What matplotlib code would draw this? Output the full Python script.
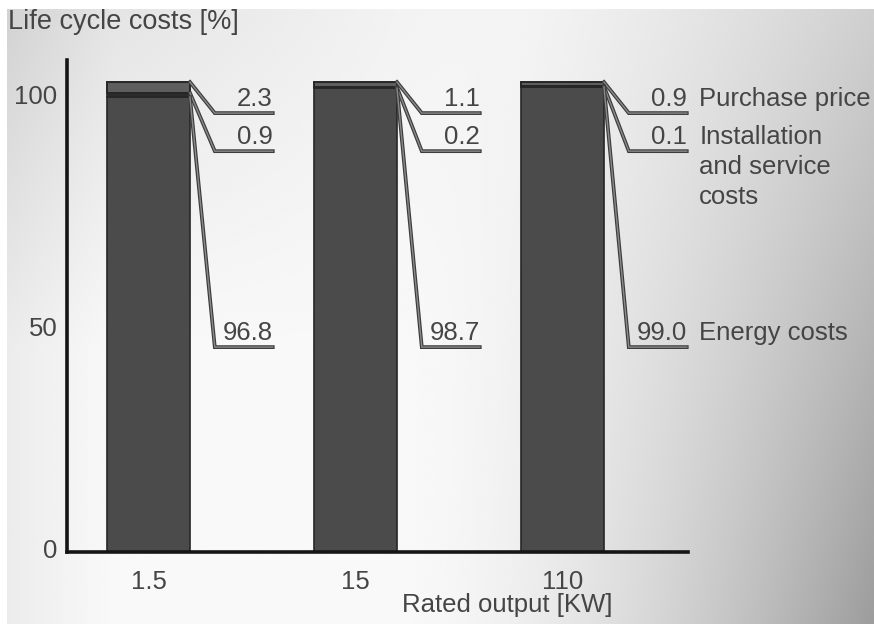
import numpy as np
import matplotlib
matplotlib.use("Agg")
import matplotlib.pyplot as plt
from matplotlib import font_manager
from matplotlib.transforms import ScaledTranslation
import matplotlib.patheffects as pe

# ---- data -------------------------------------------------------------
outputs = ["1.5", "15", "110"]                     # rated output [kW]
purchase = [2.3, 1.1, 0.9]                          # purchase price [%]
installation = [0.9, 0.2, 0.1]                      # installation and service costs [%]
energy = [96.8, 98.7, 99.0]                         # energy costs [%]
component_names = ["Purchase price", "Installation\nand service\ncosts", "Energy costs"]
y_ticks = [0, 50, 100]

# ---- font -------------------------------------------------------------
available = {f.name for f in font_manager.fontManager.ttflist}
family = next((f for f in ["Liberation Sans Narrow", "Liberation Sans", "DejaVu Sans"]
               if f in available), "DejaVu Sans")
plt.rcParams["font.family"] = [family, "DejaVu Sans"]
txt_col = "#454545"
fs = 18.5

fig = plt.figure(figsize=(8.74, 6.24), dpi=100, facecolor="white")
W, H = 874, 624

# ---- shaded backdrop --------------------------------------------------
bg = fig.add_axes([7 / W, 0, 1 - 7 / W, 1 - 9 / H], zorder=0)
gx, gy = np.meshgrid(np.linspace(0, 1, 400), np.linspace(0, 1, 300))  # gy: 0 top, 1 bottom
shade = 0.975
shade -= 0.36 * np.clip((gx - 0.45) / 0.55, 0, 1) ** 1.6 * (0.45 + 0.55 * gy)
shade -= 0.10 * np.clip(1 - gx / 0.6, 0, 1) * np.clip(1 - gy / 0.55, 0, 1)
shade -= 0.05 * np.clip(1 - gx / 0.12, 0, 1)
bg.imshow(shade, cmap="gray", vmin=0, vmax=1, aspect="auto",
          extent=[0, 1, 1, 0], interpolation="bicubic")
bg.set_axis_off()

# ---- main axes --------------------------------------------------------
ax = fig.add_axes([67 / W, 1 - 552 / H, (688 - 67) / W, (552 - 60) / H], zorder=1)
ax.patch.set_alpha(0)
x = np.arange(len(outputs))
bw = 0.4
edge = "#262626"

ax.bar(x, energy, bw, color="#4b4b4b", edgecolor=edge, linewidth=1.2)
ax.bar(x, installation, bw, bottom=energy, color="#2c2c2c", edgecolor=edge, linewidth=1.2)
bottoms_p = [e + i for e, i in zip(energy, installation)]
ax.bar(x, purchase, bw, bottom=bottoms_p, color="#5e5e5e", edgecolor=edge, linewidth=1.4)

ax.set_xlim(-0.394, 2.606)
ax.set_ylim(0, 104.7)
ax.set_xticks(x)
ax.set_xticklabels(outputs)
ax.set_yticks(y_ticks)
ax.tick_params(length=0, labelsize=fs, labelcolor=txt_col)
ax.tick_params(axis="x", pad=13)
ax.tick_params(axis="y", pad=7)
# the printed scale labels sit a little below their gridline heights
for lbl, dy in zip(ax.get_yticklabels(), [-3, 9, 12]):
    lbl.set_transform(lbl.get_transform() + ScaledTranslation(0, -dy / 100, fig.dpi_scale_trans))
for s in ["top", "right"]:
    ax.spines[s].set_visible(False)
for s in ["left", "bottom"]:
    ax.spines[s].set_linewidth(2.6)
    ax.spines[s].set_color("#151515")

ax.set_xlabel("Rated output [KW]", fontsize=fs, color=txt_col)
ax.xaxis.set_label_coords(0.709, -0.083)

# ---- leader lines with values ----------------------------------------
knee_y = [93.4, 85.3, 43.6]     # height of the horizontal part of each leader
knee_dx, end_dx = 0.32, 0.60
line_fx = [pe.Stroke(linewidth=2.7, foreground="#3c3c3c"), pe.Normal()]
for i in range(len(outputs)):
    tops = [100.0, energy[i] + installation[i], energy[i]]
    vals = [purchase[i], installation[i], energy[i]]
    xr = x[i] + bw / 2
    for k in range(3):
        ax.plot([xr, x[i] + knee_dx, x[i] + end_dx], [tops[k], knee_y[k], knee_y[k]],
                color="#8a8a8a", linewidth=1.0, solid_joinstyle="miter",
                path_effects=line_fx, clip_on=False, zorder=3)
        ax.annotate(f"{vals[k]:.1f}", (x[i] + end_dx, knee_y[k]), xytext=(0, 5),
                    textcoords="offset points", ha="right", va="baseline",
                    fontsize=fs, color=txt_col)

for k, name in enumerate(component_names):
    ax.annotate(name, (x[-1] + end_dx, knee_y[k]), xytext=(9, 18.7),
                textcoords="offset points", ha="left", va="top",
                fontsize=fs, color=txt_col, linespacing=1.32, annotation_clip=False)

fig.text(8 / W, 1 - 22 / H, "Life cycle costs [%]", fontsize=19.5, color=txt_col,
         ha="left", va="center")

fig.savefig("out.png", dpi=100, facecolor=fig.get_facecolor())
